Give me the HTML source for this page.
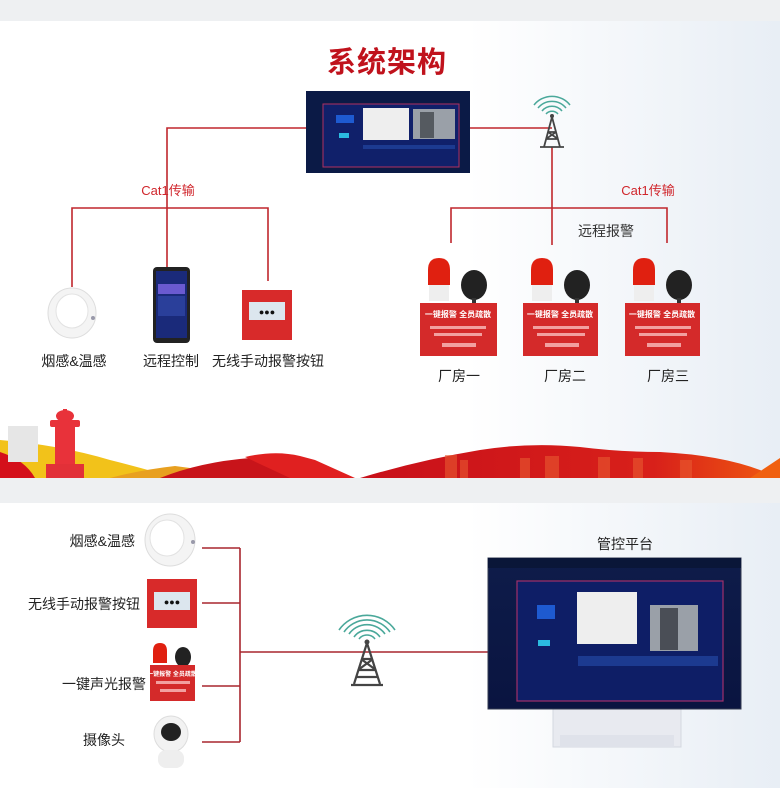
<!DOCTYPE html>
<html><head><meta charset="utf-8"><style>
body{margin:0;width:780px;height:788px;overflow:hidden;background:#eef0f2;font-family:"Liberation Sans","Noto Sans CJK SC",sans-serif}
svg{display:block}
</style></head><body>
<svg width="780" height="788" viewBox="0 0 780 788" xmlns="http://www.w3.org/2000/svg" font-family="Liberation Sans, Noto Sans CJK SC, sans-serif">
<defs>
<linearGradient id="bg1" x1="0" x2="1"><stop offset="0.6" stop-color="#fff"/><stop offset="1" stop-color="#e8eef5"/></linearGradient>
<linearGradient id="red" x1="0" x2="1"><stop offset="0" stop-color="#c8101a"/><stop offset="0.7" stop-color="#d8201a"/><stop offset="1" stop-color="#f05a10"/></linearGradient>
<linearGradient id="scr" x1="0" y1="0" x2="0" y2="1"><stop offset="0" stop-color="#0e1c4a"/><stop offset="1" stop-color="#0a1440"/></linearGradient>
</defs>
<rect x="0" y="0" width="780" height="788" fill="#eef0f2"/>
<rect x="0" y="21" width="780" height="457" fill="url(#bg1)"/>
<rect x="0" y="503" width="780" height="285" fill="url(#bg1)"/>

<!-- banner -->
<path d="M0 440 Q60 445 110 460 Q150 470 175 478 L0 478Z" fill="#f2c21a"/>
<path d="M0 452 Q25 460 35 478 L0 478Z" fill="#d4101a"/>
<path d="M110 478 Q140 470 175 466 L205 470 L230 478Z" fill="#e8a020"/>
<path d="M160 478 Q200 462 250 458 Q285 455 300 466 L340 478Z" fill="#c8141a"/>
<path d="M245 457 Q275 450 300 456 L315 460 L355 478 L290 478 Z" fill="#e02020"/>
<path d="M360 478 Q420 460 480 450 Q530 442 580 447 Q620 452 660 452 Q720 455 760 470 L780 478Z" fill="url(#red)"/>
<path d="M750 478 L780 458 L780 478Z" fill="#f06010"/>
<g fill="#e85a30" opacity="0.6">
<rect x="445" y="455" width="12" height="23"/><rect x="460" y="460" width="8" height="18"/><rect x="520" y="458" width="10" height="20"/><rect x="545" y="456" width="14" height="22"/><rect x="598" y="457" width="12" height="21"/><rect x="633" y="458" width="10" height="20"/><rect x="680" y="460" width="12" height="18"/>
</g>
<rect x="8" y="426" width="30" height="36" fill="#e6e6e6"/>
<rect x="55" y="425" width="20" height="40" fill="#e8323a"/>
<rect x="50" y="420" width="30" height="7" rx="2" fill="#e8323a"/>
<ellipse cx="65" cy="416" rx="9" ry="6" fill="#e8323a"/>
<rect x="63" y="409" width="4" height="5" fill="#e8323a"/>
<rect x="46" y="464" width="38" height="14" fill="#e23038"/>

<!-- title -->
<text x="387" y="72" font-size="29" font-weight="bold" fill="#c0121c" text-anchor="middle" letter-spacing="1">系统架构</text>

<!-- lines top -->
<g stroke="#c0272d" stroke-width="1.6" fill="none">
<path d="M306 128 H167 V267"/>
<path d="M72 287 V208 H268 V281"/>
<path d="M470 128 H552"/>
<path d="M552 147 V245"/>
<path d="M451 243 V208 H667 V243"/>
</g>
<text x="168" y="195" font-size="13" fill="#d0262c" text-anchor="middle">Cat1传输</text>
<text x="648" y="195" font-size="13" fill="#d0262c" text-anchor="middle">Cat1传输</text>
<text x="606" y="236" font-size="14" fill="#333" text-anchor="middle">远程报警</text>

<!-- top monitor -->
<rect x="306" y="91" width="164" height="82" fill="#0b1a46"/>
<rect x="323" y="104" width="136" height="63" fill="#10206a" stroke="#b03060" stroke-width="1"/>
<rect x="363" y="108" width="46" height="32" fill="#eeeeee"/>
<rect x="413" y="109" width="42" height="30" fill="#9aa0a8"/>
<rect x="420" y="112" width="14" height="26" fill="#555a60"/>
<rect x="336" y="115" width="18" height="8" fill="#1e5ad0"/>
<rect x="339" y="133" width="10" height="5" fill="#2bbbe0"/>
<rect x="363" y="145" width="92" height="4" fill="#1c3a90"/>

<!-- tower top -->
<g transform="translate(552,120)">
<g stroke="#4aa89a" stroke-width="1.5" fill="none">
<path d="M-6 -6 A8 8 0 0 1 6 -6"/><path d="M-10 -9 A13 13 0 0 1 10 -9"/><path d="M-14 -12 A18 18 0 0 1 14 -12"/><path d="M-18 -15 A23 23 0 0 1 18 -15"/>
</g>
<g stroke="#444" stroke-width="1.8" fill="none"><path d="M0 -3 L-8 27 M0 -3 L8 27 M-4 12 L4 12 M-6 19 L6 19 M-4 12 L6 19 M4 12 L-6 19"/><path d="M-12 27 H12"/></g>
<circle cx="0" cy="-4" r="2" fill="#444"/>
</g>

<!-- smoke detector top -->
<ellipse cx="72" cy="313" rx="24" ry="25" fill="#f4f4f4" stroke="#ddd"/>
<ellipse cx="72" cy="311" rx="16" ry="17" fill="#fff" stroke="#e2e2e2"/>
<circle cx="93" cy="318" r="2" fill="#99a"/>
<!-- phone -->
<rect x="153" y="267" width="37" height="76" rx="4" fill="#222"/>
<rect x="156" y="271" width="31" height="67" fill="#1a2a7a"/>
<rect x="158" y="284" width="27" height="10" fill="#6a5ad0"/>
<rect x="158" y="296" width="27" height="20" fill="#2a3f9a"/>
<!-- button -->
<rect x="242" y="290" width="50" height="50" fill="#d82a2a"/>
<rect x="249" y="302" width="36" height="18" fill="#dce6ee"/>
<text x="267" y="315" font-size="9" fill="#111" text-anchor="middle">●●●</text>

<text x="74" y="366" font-size="14" fill="#222" text-anchor="middle">烟感&amp;温感</text>
<text x="171" y="366" font-size="14" fill="#222" text-anchor="middle">远程控制</text>
<text x="268" y="366" font-size="14" fill="#222" text-anchor="middle">无线手动报警按钮</text>

<!-- alarms -->
<g transform="translate(420,258)">
<path d="M8 12 Q8 0 19 0 Q30 0 30 12 V27 H8Z" fill="#e02010"/><rect x="9" y="27" width="20" height="16" fill="#eee"/>
<ellipse cx="54" cy="27" rx="13" ry="15" fill="#222"/><rect x="52" y="40" width="4" height="5" fill="#333"/>
<rect x="0" y="45" width="77" height="53" fill="#d42a2a"/>
<text x="38" y="59" font-size="8" font-weight="bold" fill="#fff" text-anchor="middle">一键报警 全员疏散</text>
<rect x="10" y="68" width="56" height="3" fill="#f2a0a0"/><rect x="14" y="75" width="48" height="3" fill="#f2a0a0"/><rect x="22" y="85" width="34" height="4" fill="#f2a0a0"/>
</g>
<g transform="translate(523,258)">
<path d="M8 12 Q8 0 19 0 Q30 0 30 12 V27 H8Z" fill="#e02010"/><rect x="9" y="27" width="20" height="16" fill="#eee"/>
<ellipse cx="54" cy="27" rx="13" ry="15" fill="#222"/><rect x="52" y="40" width="4" height="5" fill="#333"/>
<rect x="0" y="45" width="75" height="53" fill="#d42a2a"/>
<text x="37" y="59" font-size="8" font-weight="bold" fill="#fff" text-anchor="middle">一键报警 全员疏散</text>
<rect x="10" y="68" width="56" height="3" fill="#f2a0a0"/><rect x="14" y="75" width="48" height="3" fill="#f2a0a0"/><rect x="22" y="85" width="34" height="4" fill="#f2a0a0"/>
</g>
<g transform="translate(625,258)">
<path d="M8 12 Q8 0 19 0 Q30 0 30 12 V27 H8Z" fill="#e02010"/><rect x="9" y="27" width="20" height="16" fill="#eee"/>
<ellipse cx="54" cy="27" rx="13" ry="15" fill="#222"/><rect x="52" y="40" width="4" height="5" fill="#333"/>
<rect x="0" y="45" width="75" height="53" fill="#d42a2a"/>
<text x="37" y="59" font-size="8" font-weight="bold" fill="#fff" text-anchor="middle">一键报警 全员疏散</text>
<rect x="10" y="68" width="56" height="3" fill="#f2a0a0"/><rect x="14" y="75" width="48" height="3" fill="#f2a0a0"/><rect x="22" y="85" width="34" height="4" fill="#f2a0a0"/>
</g>
<text x="459" y="381" font-size="14" fill="#222" text-anchor="middle">厂房一</text>
<text x="565" y="381" font-size="14" fill="#222" text-anchor="middle">厂房二</text>
<text x="668" y="381" font-size="14" fill="#222" text-anchor="middle">厂房三</text>

<!-- bottom panel -->
<g stroke="#a8262e" stroke-width="1.6" fill="none">
<path d="M202 548 H240 M202 603 H240 M202 686 H240 M202 742 H240 M240 548 V742 M240 652 H488"/>
</g>
<text x="135" y="546" font-size="14" fill="#222" text-anchor="end">烟感&amp;温感</text>
<text x="140" y="609" font-size="14" fill="#222" text-anchor="end">无线手动报警按钮</text>
<text x="146" y="689" font-size="14" fill="#222" text-anchor="end">一键声光报警</text>
<text x="125" y="745" font-size="14" fill="#222" text-anchor="end">摄像头</text>

<ellipse cx="170" cy="540" rx="25" ry="26" fill="#f4f4f4" stroke="#ddd"/>
<ellipse cx="167" cy="538" rx="17" ry="18" fill="#fff" stroke="#e2e2e2"/>
<circle cx="193" cy="542" r="2" fill="#99a"/>
<rect x="147" y="579" width="50" height="49" fill="#d82a2a"/>
<rect x="154" y="592" width="36" height="18" fill="#dce6ee"/>
<text x="172" y="605" font-size="9" fill="#111" text-anchor="middle">●●●</text>
<g transform="translate(150,643)">
<path d="M3 8 Q3 0 10 0 Q17 0 17 8 V20 H3Z" fill="#e02010"/>
<ellipse cx="33" cy="14" rx="8" ry="10" fill="#222"/>
<rect x="0" y="22" width="45" height="36" fill="#d42a2a"/>
<text x="22" y="33" font-size="6" font-weight="bold" fill="#fff" text-anchor="middle">一键报警 全员疏散</text>
<rect x="6" y="38" width="34" height="3" fill="#f2a0a0"/><rect x="10" y="46" width="26" height="3" fill="#f2a0a0"/>
</g>
<g transform="translate(171,742)">
<ellipse cx="0" cy="-8" rx="17" ry="18" fill="#f2f2f2" stroke="#ddd"/>
<ellipse cx="0" cy="-10" rx="10" ry="9" fill="#222"/>
<rect x="-13" y="8" width="26" height="18" rx="8" fill="#eee"/>
</g>

<!-- tower bottom -->
<g transform="translate(367,643)">
<g stroke="#4aa89a" stroke-width="1.6" fill="none">
<path d="M-8 -4 A10 10 0 0 1 8 -4"/><path d="M-13 -6 A16 16 0 0 1 13 -6"/><path d="M-18 -9 A22 22 0 0 1 18 -9"/><path d="M-23 -11 A28 28 0 0 1 23 -11"/><path d="M-28 -13 A34 34 0 0 1 28 -13"/>
</g>
<g stroke="#444" stroke-width="2.2" fill="none"><path d="M0 0 L-13 41 M0 0 L13 41 M-6 16 L6 16 M-9 27 L9 27 M-6 16 L9 27 M6 16 L-9 27 M-11 34 L11 34"/><path d="M-16 42 H16"/></g>
<circle cx="0" cy="-1" r="2.5" fill="#444"/>
</g>

<text x="625" y="549" font-size="14" fill="#222" text-anchor="middle">管控平台</text>
<!-- stand -->
<rect x="553" y="709" width="128" height="38" fill="#e8eaf0" stroke="#d4d8e0"/>
<rect x="560" y="735" width="114" height="12" fill="#dfe2ea"/>
<!-- monitor -->
<rect x="488" y="558" width="253" height="151" fill="url(#scr)" stroke="#333a50"/>
<rect x="517" y="581" width="206" height="120" fill="#0e1e66" stroke="#a0306a" stroke-width="1.2"/>
<rect x="577" y="592" width="60" height="52" fill="#eeeeee"/>
<rect x="650" y="605" width="48" height="46" fill="#9aa0a8"/>
<rect x="660" y="608" width="18" height="42" fill="#4a4e56"/>
<rect x="537" y="605" width="18" height="14" fill="#1e5ad0"/>
<rect x="538" y="640" width="12" height="6" fill="#2bbbe0"/>
<rect x="578" y="656" width="140" height="10" fill="#1c3a90"/>
<rect x="488" y="558" width="253" height="10" fill="#0a1638"/>
</svg>
</body></html>
